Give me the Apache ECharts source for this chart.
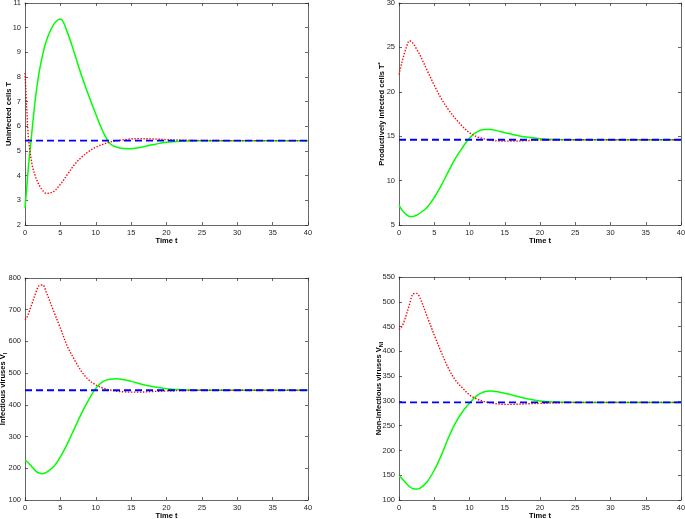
<!DOCTYPE html>
<html>
<head>
<meta charset="utf-8">
<script src="https://cdn.jsdelivr.net/npm/echarts@6/dist/echarts.min.js"></script>
<style>
  html, body { margin: 0; padding: 0; background: #fff; }
  #main { width: 685px; height: 519px; }
</style>
</head>
<body>
<div id="main"></div>
<script>
// time points (t)
const time = [0, 0.25, 0.5, 1, 1.5, 2, 2.5, 3, 4, 5, 6, 7, 8, 9, 10, 11, 12, 13, 14, 15, 16, 18, 20, 22, 25, 30, 40];

// uninfected cells T
const tGreen = [2.7, 3.55, 4.4, 5.85, 7.2, 8.2, 8.9, 9.45, 10.1, 10.35, 9.8, 8.95, 8.05, 7.25, 6.5, 5.8, 5.3, 5.15, 5.1, 5.09, 5.13, 5.25, 5.35, 5.4, 5.42, 5.42, 5.42];
const tRed = [8.16, 6.7, 5.5, 4.45, 3.95, 3.62, 3.4, 3.28, 3.35, 3.65, 4.05, 4.45, 4.75, 4.98, 5.15, 5.27, 5.36, 5.42, 5.46, 5.49, 5.5, 5.49, 5.46, 5.44, 5.43, 5.42, 5.42];
const tEq = 5.42;

// productively infected cells T*
const tsGreen = [7.25, 6.9, 6.6, 6.2, 5.96, 5.97, 6.1, 6.35, 7.0, 8.1, 9.45, 11.0, 12.5, 13.7, 14.8, 15.45, 15.75, 15.75, 15.6, 15.4, 15.23, 14.9, 14.72, 14.64, 14.6, 14.6, 14.6];
const tsRed = [21.94, 22.8, 23.6, 24.9, 25.75, 25.45, 24.8, 24.1, 22.4, 20.74, 19.24, 18.0, 17.0, 16.1, 15.4, 14.95, 14.72, 14.55, 14.47, 14.44, 14.44, 14.5, 14.56, 14.58, 14.6, 14.6, 14.6];
const tsEq = 14.6;

// infectious viruses V_I
const viGreen = [224, 222, 217, 204, 192, 185, 183, 187, 204, 236, 278, 326, 374, 416, 452, 473, 481, 482, 479, 474, 468, 458, 451, 448, 446, 446, 446];
const viRed = [668, 675, 688, 720, 752, 776, 778, 755, 698, 642, 584, 542, 505, 479, 463, 453, 447, 443, 441, 440, 440, 442, 444, 445, 446, 446, 446];
const viEq = 446;

// non-infectious viruses V_NI
const vniGreen = [148, 146, 142, 134, 127, 122.5, 122, 124, 137, 160, 190, 225, 255, 278, 295, 310, 318, 320, 318.5, 315.5, 312, 305, 300, 298, 297, 297, 297];
const vniRed = [444, 447, 452, 472, 495, 516, 517, 507, 470, 433, 398, 366, 342, 326, 312, 304, 299, 296, 294, 293, 293, 294, 295, 296, 297, 297, 297];
const vniEq = 297;

const FONT = 'Liberation Sans';
const INK = '#262626';

const panels = [
  { left: 25, top: 3, width: 283, height: 222, min: 2, max: 11, step: 1, gap: 12,
    name: 'Uninfected cells T', green: tGreen, red: tRed, eq: tEq },
  { left: 399, top: 3, width: 282, height: 222, min: 5, max: 30, step: 5, gap: 12,
    name: 'Productively infected cells T{sup|*}', green: tsGreen, red: tsRed, eq: tsEq },
  { left: 25, top: 278, width: 283, height: 222, min: 100, max: 800, step: 100, gap: 17,
    name: 'Infectious viruses V{sub|I}', green: viGreen, red: viRed, eq: viEq },
  { left: 399, top: 277, width: 282, height: 223, min: 100, max: 550, step: 50, gap: 15,
    name: 'Non-infectious viruses V{sub|NI}', green: vniGreen, red: vniRed, eq: vniEq }
];

const nameStyle = {
  fontFamily: FONT, fontWeight: 'bold', fontSize: 7.5, color: '#000',
  rich: {
    sup: { fontFamily: FONT, fontWeight: 'bold', fontSize: 5.5, color: '#000', verticalAlign: 'top', padding: [0, 0, 4, 0] },
    sub: { fontFamily: FONT, fontWeight: 'bold', fontSize: 5.5, color: '#000', verticalAlign: 'bottom', padding: [4, 0, 0, 0] }
  }
};

const grid = [], xAxis = [], yAxis = [], series = [];

panels.forEach((p, i) => {
  grid.push({ left: p.left, top: p.top, width: p.width, height: p.height, containLabel: false, outerBoundsMode: 'none' });
  const line = { show: true, onZero: false, lineStyle: { color: INK, width: 0.7 } };
  const tick = { show: true, inside: true, length: 3, lineStyle: { color: INK, width: 0.7 } };
  const label = { fontFamily: FONT, fontSize: 7.5, color: INK };
  xAxis.push({
    gridIndex: i, type: 'value', min: 0, max: 40, interval: 5, position: 'bottom',
    axisLine: line, axisTick: tick, splitLine: { show: false },
    axisLabel: Object.assign({ margin: 4 }, label),
    name: 'Time t', nameLocation: 'middle', nameGap: 12, nameMoveOverlap: false, nameTextStyle: nameStyle
  });
  xAxis.push({
    gridIndex: i, type: 'value', min: 0, max: 40, interval: 5, position: 'top',
    axisLine: line, axisTick: tick, splitLine: { show: false }, axisLabel: { show: false }
  });
  yAxis.push({
    gridIndex: i, type: 'value', min: p.min, max: p.max, interval: p.step, position: 'left',
    axisLine: line, axisTick: tick, splitLine: { show: false },
    axisLabel: Object.assign({ margin: 4 }, label),
    name: p.name, nameLocation: 'middle', nameGap: p.gap, nameMoveOverlap: false, nameTextStyle: nameStyle
  });
  yAxis.push({
    gridIndex: i, type: 'value', min: p.min, max: p.max, interval: p.step, position: 'right',
    axisLine: line, axisTick: tick, splitLine: { show: false }, axisLabel: { show: false }
  });
  const xi = i * 2, yi = i * 2;
  series.push({
    type: 'line', xAxisIndex: xi, yAxisIndex: yi, symbol: 'none', smooth: 0.35,
    data: time.map((t, k) => [t, p.green[k]]),
    lineStyle: { color: '#00ff00', width: 1.5 }
  });
  series.push({
    type: 'line', xAxisIndex: xi, yAxisIndex: yi, symbol: 'none', smooth: 0.35,
    data: time.map((t, k) => [t, p.red[k]]),
    lineStyle: { color: '#ff0000', width: 1.4, type: [1.4, 1.6] }
  });
  series.push({
    type: 'line', xAxisIndex: xi, yAxisIndex: yi, symbol: 'none',
    data: time.map(t => [t, p.eq]),
    lineStyle: { color: '#0000ff', width: 1.8, type: [7, 4] }
  });
});

const chart = echarts.init(document.getElementById('main'));
chart.setOption({
  animation: false,
  backgroundColor: '#fff',
  grid, xAxis, yAxis, series
});
</script>
</body>
</html>
